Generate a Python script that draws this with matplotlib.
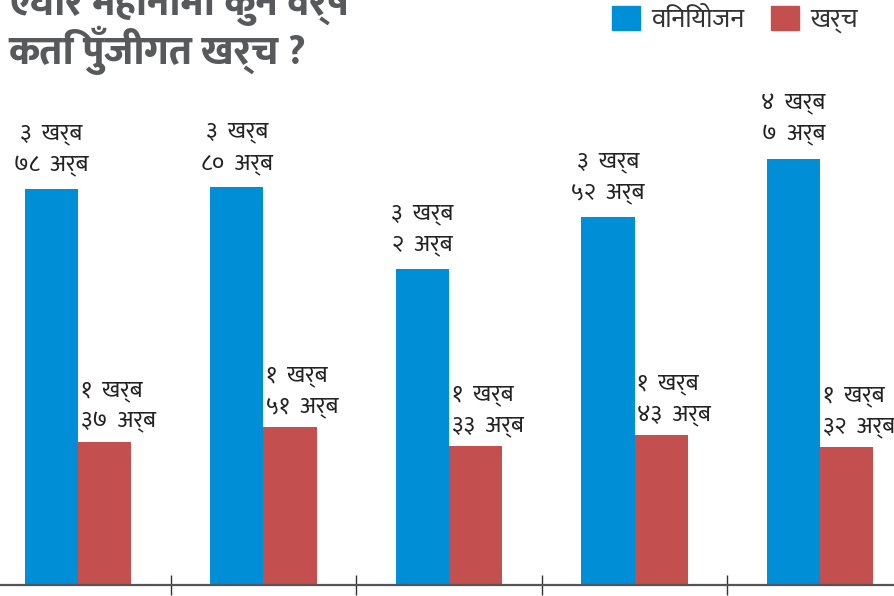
import matplotlib
matplotlib.use("Agg")
import matplotlib.pyplot as plt
from matplotlib.patches import Patch

# एघार महिनाको विनियोजन र खर्च (अर्ब रुपैयाँमा)
years = ["y1", "y2", "y3", "y4", "y5"]
binyojan = [378, 380, 302, 352, 407]   # विनियोजन
kharcha = [137, 151, 133, 143, 132]    # खर्च

title_1 = "एघार महिनामा कुन वर्ष"
title_2 = "कति पुँजीगत खर्च ?"
legend_labels = ["विनियोजन", "खर्च"]

blue = "#008ED6"
red = "#C44F4F"
deva = ["Mukta", "Noto Sans Devanagari", "DejaVu Sans"]

digits = "०१२३४५६७८९"


def nep(n):
    return "".join(digits[int(c)] for c in str(n))


def label(v):
    return nep(v // 100) + "  खर्ब\n" + nep(v % 100) + "  अर्ब"


fig = plt.figure(figsize=(8.95, 5.96), dpi=100)
ax = fig.add_axes([0, 0.0185, 1, 0.9815])

w = 0.286
x = list(range(len(years)))
ax.bar([i - w / 2 for i in x], binyojan, width=w, color=blue)
ax.bar([i + w / 2 for i in x], kharcha, width=w, color=red)

for i in x:
    ax.annotate(label(binyojan[i]), xy=(i - w / 2, binyojan[i]),
                xytext=(0, 9), textcoords="offset points",
                ha="center", va="bottom", multialignment="center",
                fontsize=17, linespacing=1.4, color="#222222", family=deva)
    ax.annotate(label(kharcha[i]), xy=(i, kharcha[i]),
                xytext=(2, 6), textcoords="offset points",
                ha="left", va="bottom", multialignment="left",
                fontsize=17, linespacing=1.4, color="#222222", family=deva)

ax.set_xlim(-0.42, 4.404)
ax.set_ylim(0, 559)
for s in ["left", "right", "top"]:
    ax.spines[s].set_visible(False)
ax.spines["bottom"].set_color("#555555")
ax.spines["bottom"].set_linewidth(1.6)
ax.set_yticks([])
ax.set_xticks([0.5, 1.5, 2.5, 3.5])
ax.set_xticklabels([])
ax.tick_params(axis="x", direction="inout", length=14, width=1, color="#333333")

fig.text(0.009, 0.975, title_1, fontsize=29, fontweight="heavy",
         color="#58595B", va="baseline", family=deva)
fig.text(0.009, 0.892, title_2, fontsize=29, fontweight="heavy",
         color="#58595B", va="baseline", family=deva)

handles = [Patch(color=blue), Patch(color=red)]
ax.legend(handles, legend_labels, ncol=2, loc="upper right",
          bbox_to_anchor=(0.962, 0.995), frameon=False,
          handlelength=1.05, handleheight=1.05, handletextpad=0.45,
          columnspacing=1.0, borderaxespad=0.0, borderpad=0.1,
          prop={"family": deva, "size": 19}, labelcolor="#333333")

fig.savefig("out.png")
